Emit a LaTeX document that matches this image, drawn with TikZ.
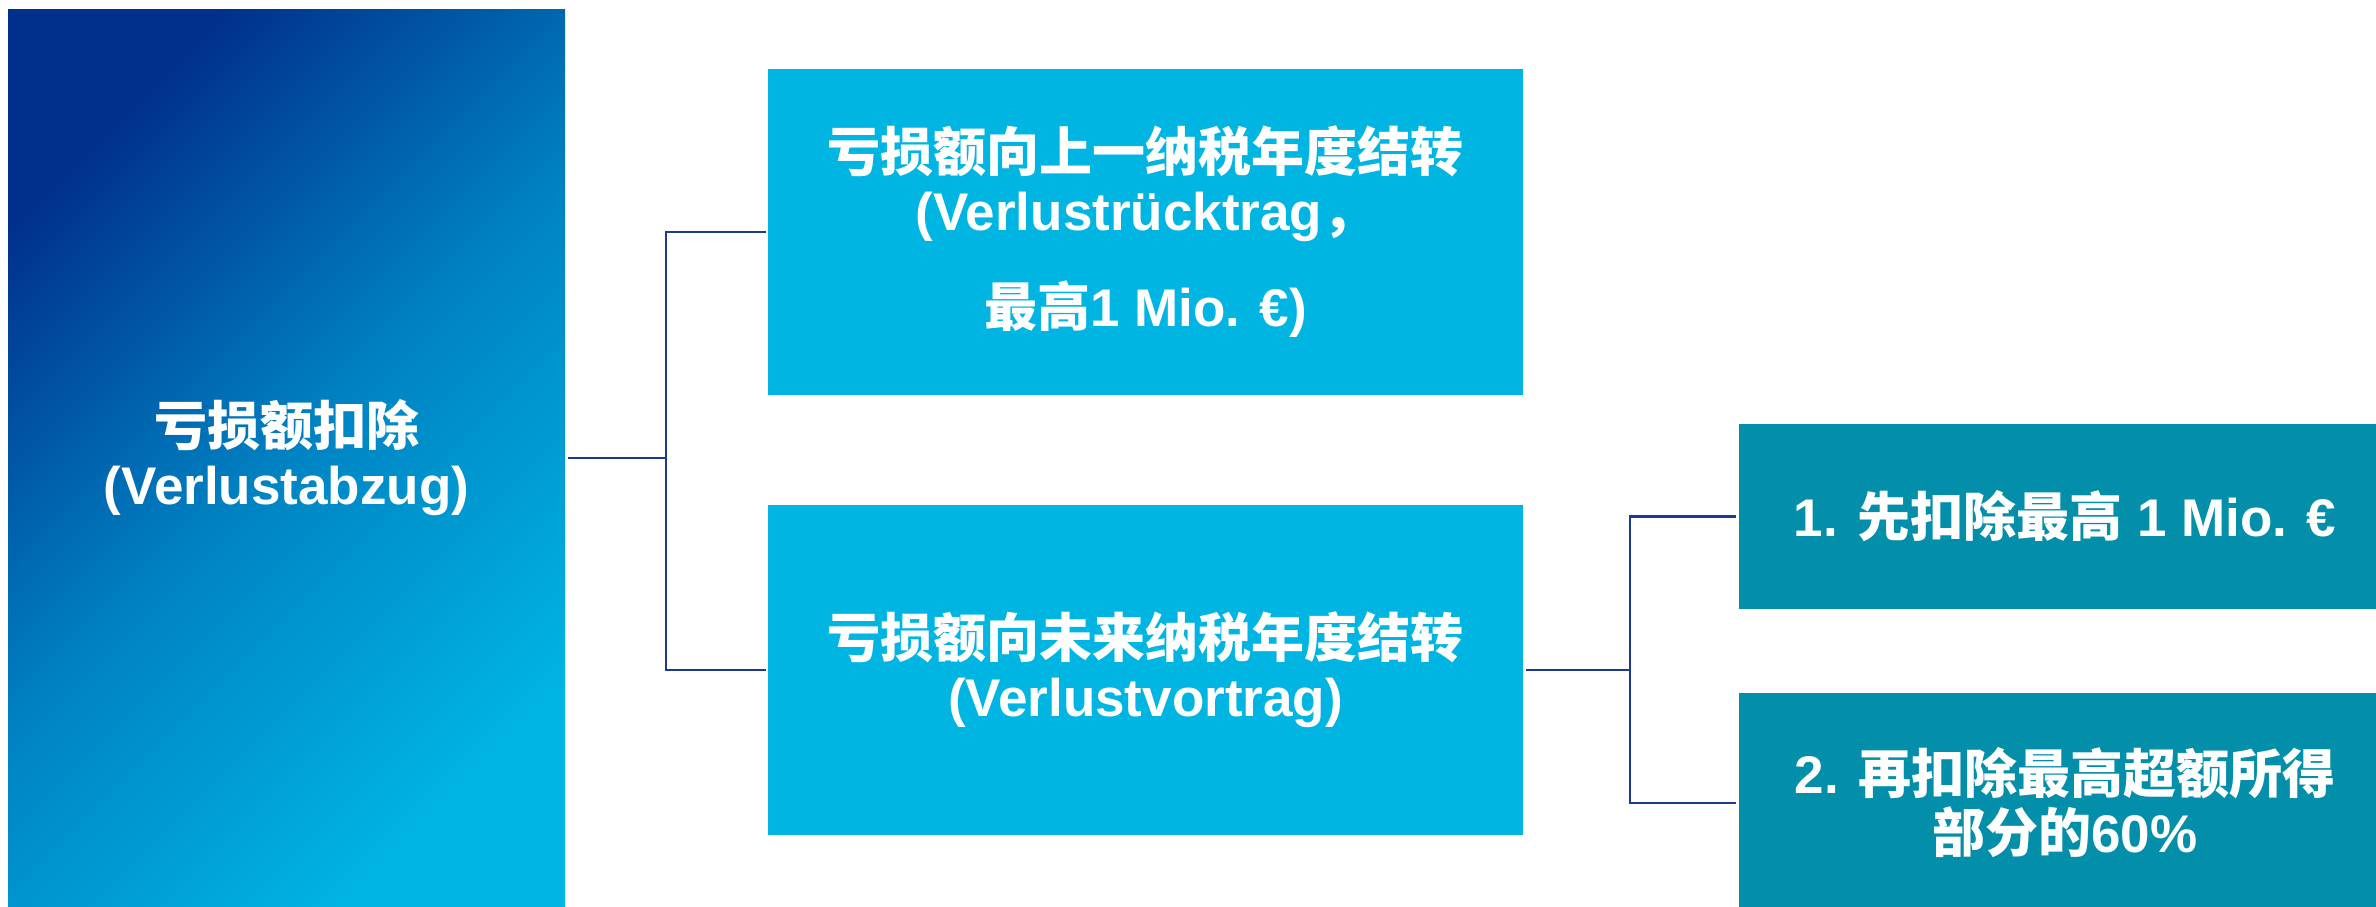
\documentclass[tikz,border=0pt]{standalone}
\usepackage{fontspec}
\setmainfont{Liberation Sans}
\newfontfamily\cjk{Noto Sans CJK SC}
\definecolor{navydark}{RGB}{0,48,140}
\definecolor{cyanlight}{RGB}{0,181,227}
\definecolor{midbox}{RGB}{0,181,225}
\definecolor{rightbox}{RGB}{3,142,170}
\definecolor{connblue}{RGB}{28,58,148}
\tikzset{
  txt/.style={text=white, align=center, inner sep=0pt,
    font=\bfseries\fontsize{26.5}{29.5}\selectfont},
  midstyle/.style={txt, fill=midbox, minimum width=377.5pt},
  rightstyle/.style={txt, fill=rightbox, minimum width=326pt},
  conn/.style={draw=connblue, line width=1.4pt}
}
\begin{document}
\begin{tikzpicture}[x=0.5pt, y=-0.5pt]
\useasboundingbox (0,0) rectangle (2376,906);
\clip (0,0) rectangle (2376,906);
\fill[white] (0,0) rectangle (2376,906);
% main box
\node[txt, minimum width=278.5pt, minimum height=449pt,
  top color=navydark, bottom color=cyanlight, middle color=cyanlight!62!navydark, shading angle=45]
  (main) at (286.5,458) {{\cjk 亏损额扣除}\\(Verlustabzug)};
% middle boxes
\node[midstyle, minimum height=163pt] (up) at (1145.5,232)
  {{\cjk 亏损额向上一纳税年度结转}\\(Verlustrücktrag{\cjk ，}\\[18.5pt]{\cjk 最高}1 Mio. €)};
\node[midstyle, minimum height=165pt] (fwd) at (1145.5,670)
  {{\cjk 亏损额向未来纳税年度结转}\\(Verlustvortrag)};
% right boxes
\node[rightstyle, minimum height=92.5pt] (r1) at (2065,516.5)
  {1. {\cjk 先扣除最高} 1 Mio. €};
\node[rightstyle, minimum height=110pt] (r2) at (2065,803)
  {2. {\cjk 再扣除最高超额所得}\\{\cjk 部分的}60\%};
% connectors
\coordinate (j1) at (666,458);
\coordinate (j2) at (1630,670);
\draw[conn] ([xshift=1.5pt]main.east) -- (j1);
\draw[conn] ([xshift=-1pt]up.west) -| (j1);
\draw[conn] ([xshift=-1pt]fwd.west) -| (j1);
\draw[conn] ([xshift=1.5pt]fwd.east) -- (j2);
\draw[conn] ([xshift=-1.5pt]r1.west) -| (j2);
\draw[conn] ([xshift=-1.5pt]r2.west) -| (j2);
\end{tikzpicture}
\end{document}
